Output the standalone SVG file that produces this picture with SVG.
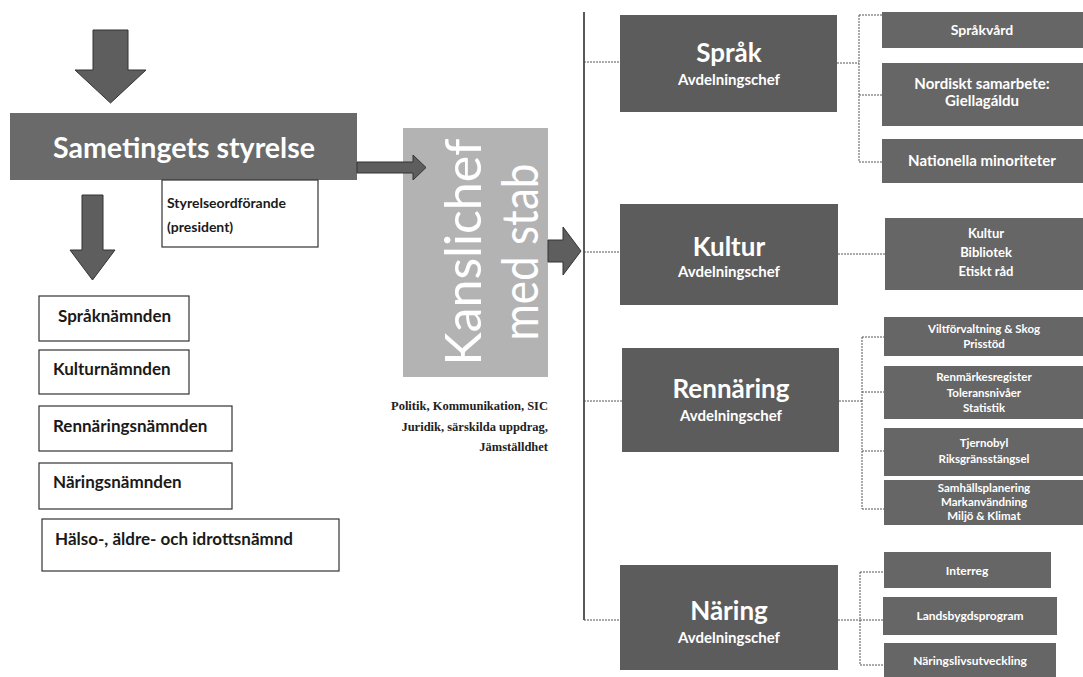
<svg xmlns="http://www.w3.org/2000/svg" width="1083" height="677" viewBox="0 0 1083 677">
<style>
.bg{fill:#ffffff}
.arrow{fill:#5e5e5e;stroke:#333333;stroke-width:1}
.dark{fill:#5c5c5c}
.sub{fill:#666666}
.wbox{fill:#ffffff;stroke:#333333;stroke-width:1.2}
.wt{font-family:Lato,"Open Sans","Liberation Sans",sans-serif;fill:#ffffff;font-weight:bold;text-anchor:middle}
.bt{font-family:Lato,"Open Sans","Liberation Sans",sans-serif;fill:#1a1a1a;font-weight:bold}
.serif{font-family:"Liberation Serif","Times New Roman",serif;fill:#222222;font-weight:bold;font-size:12.5px;text-anchor:end}
.main{stroke:#222222;stroke-width:1.5;fill:none}
.stub{stroke:#555555;stroke-width:1;stroke-dasharray:2 1;fill:none}
</style>
<rect class="bg" x="0" y="0" width="1083" height="677"/>

<g id="connectors">
<path class="main" d="M584,12 V620"/>
<path class="stub" d="M584,62 H620 M584,252 H620 M584,401 H622 M584,620 H620"/>
<path class="stub" d="M837,63 H859 M859,15 V162 M859,15 H882 M859,95 H882 M859,162 H882"/>
<path class="stub" d="M838,254 H885"/>
<path class="stub" d="M839,401 H862 M862,337 V509 M862,337 H884 M862,392 H884 M862,451 H884 M862,509 H884"/>
<path class="stub" d="M838,620 H860 M860,572 V665 M860,572 H884 M860,620 H883 M860,665 H884"/>
</g>

<g id="styrelse">
<rect x="10" y="113" width="347" height="67" fill="#6a6a6a"/>
<text class="wt" x="184" y="158" font-size="29" textLength="262" lengthAdjust="spacingAndGlyphs">Sametingets styrelse</text>
</g>

<g id="ordforande">
<rect class="wbox" x="162" y="180" width="156" height="67"/>
<text class="bt" x="167" y="208" font-size="14">Styrelseordförande</text>
<text class="bt" x="167" y="232" font-size="14">(president)</text>
</g>

<g id="spraknamnden">
<rect class="wbox" x="39" y="296" width="150" height="45"/>
<text class="bt" x="58" y="322" font-size="17">Språknämnden</text>
</g>
<g id="kulturnamnden">
<rect class="wbox" x="39" y="350" width="150" height="44"/>
<text class="bt" x="53" y="375" font-size="17">Kulturnämnden</text>
</g>
<g id="rennaringsnamnden">
<rect class="wbox" x="39" y="406" width="193" height="45"/>
<text class="bt" x="53" y="432" font-size="17">Rennäringsnämnden</text>
</g>
<g id="naringsnamnden">
<rect class="wbox" x="39" y="463" width="193" height="46"/>
<text class="bt" x="53" y="488" font-size="17">Näringsnämnden</text>
</g>
<g id="halsonamnd">
<rect class="wbox" x="42" y="519" width="297" height="52"/>
<text class="bt" x="55" y="545" font-size="17">Hälso-, äldre- och idrottsnämnd</text>
</g>

<g id="kanslichef">
<rect x="403" y="128" width="145" height="249" fill="#b3b3b3"/>
<text transform="translate(481,252) rotate(-90)" x="0" y="0" font-family="Lato,'Liberation Sans',sans-serif" font-size="50" fill="#ffffff" text-anchor="middle" textLength="227" lengthAdjust="spacingAndGlyphs">Kanslichef</text>
<text transform="translate(538,252) rotate(-90)" x="0" y="0" font-family="Lato,'Liberation Sans',sans-serif" font-size="50" fill="#ffffff" text-anchor="middle" textLength="177" lengthAdjust="spacingAndGlyphs">med stab</text>
</g>

<g id="arrows">
<polygon class="arrow" points="93,30 128,30 128,70 146,70 110.5,103 75,70 93,70"/>
<polygon class="arrow" points="82,195 103,195 103,250 115,250 92.5,280 70,250 82,250"/>
<polygon class="arrow" points="357,162 413,162 413,155 426,167.5 413,180 413,173 357,173"/>
<polygon class="arrow" points="548,240 563,240 563,227 581,251 563,275 563,262 548,262"/>
</g>

<g id="stab">
<text class="serif" x="548" y="410">Politik, Kommunikation, SIC</text>
<text class="serif" x="548" y="431">Juridik, särskilda uppdrag,</text>
<text class="serif" x="548" y="451">Jämställdhet</text>
</g>

<g id="sprak">
<rect class="dark" x="620" y="15" width="217" height="97"/>
<text class="wt" x="729" y="62" font-size="26">Språk</text>
<text class="wt" x="729" y="85" font-size="15">Avdelningschef</text>
</g>
<g id="kultur">
<rect class="dark" x="620" y="204" width="218" height="101"/>
<text class="wt" x="729" y="256" font-size="26">Kultur</text>
<text class="wt" x="729" y="277" font-size="15">Avdelningschef</text>
</g>
<g id="rennaring">
<rect class="dark" x="622" y="348" width="217" height="104"/>
<text class="wt" x="731" y="398" font-size="26">Rennäring</text>
<text class="wt" x="731" y="421" font-size="15">Avdelningschef</text>
</g>
<g id="naring">
<rect class="dark" x="620" y="565" width="218" height="105"/>
<text class="wt" x="729" y="620" font-size="26">Näring</text>
<text class="wt" x="729" y="643" font-size="15">Avdelningschef</text>
</g>

<g id="sprakvard">
<rect class="sub" x="882" y="12" width="201" height="36"/>
<text class="wt" x="982" y="35" font-size="14">Språkvård</text>
</g>
<g id="nordiskt">
<rect class="sub" x="882" y="63" width="201" height="63"/>
<text class="wt" x="982" y="89" font-size="15">Nordiskt samarbete:</text>
<text class="wt" x="982" y="106" font-size="15">Giellagáldu</text>
</g>
<g id="nationella">
<rect class="sub" x="882" y="139" width="201" height="44"/>
<text class="wt" x="982" y="166" font-size="15">Nationella minoriteter</text>
</g>

<g id="kultur-sub">
<rect class="sub" x="885" y="218" width="198" height="72"/>
<text class="wt" x="986" y="238" font-size="13">Kultur</text>
<text class="wt" x="986" y="257" font-size="13">Bibliotek</text>
<text class="wt" x="986" y="276" font-size="13">Etiskt råd</text>
</g>

<g id="vilt">
<rect class="sub" x="884" y="317" width="199" height="39"/>
<text class="wt" x="984" y="333" font-size="11.5">Viltförvaltning &amp; Skog</text>
<text class="wt" x="984" y="348" font-size="11.5">Prisstöd</text>
</g>
<g id="renmarke">
<rect class="sub" x="884" y="366" width="199" height="53"/>
<text class="wt" x="984" y="381" font-size="11.5">Renmärkesregister</text>
<text class="wt" x="984" y="397" font-size="11.5">Toleransnivåer</text>
<text class="wt" x="984" y="412" font-size="11.5">Statistik</text>
</g>
<g id="tjernobyl">
<rect class="sub" x="884" y="428" width="199" height="48"/>
<text class="wt" x="984" y="447" font-size="11.5">Tjernobyl</text>
<text class="wt" x="984" y="463" font-size="11.5">Riksgränsstängsel</text>
</g>
<g id="samhall">
<rect class="sub" x="884" y="480" width="199" height="45"/>
<text class="wt" x="984" y="492" font-size="11.5">Samhällsplanering</text>
<text class="wt" x="984" y="506" font-size="11.5">Markanvändning</text>
<text class="wt" x="984" y="520" font-size="11.5">Miljö &amp; Klimat</text>
</g>

<g id="interreg">
<rect class="sub" x="884" y="552" width="167" height="36"/>
<text class="wt" x="967" y="575" font-size="12">Interreg</text>
</g>
<g id="landsbygd">
<rect class="sub" x="883" y="597" width="174" height="38"/>
<text class="wt" x="970" y="620" font-size="12">Landsbygdsprogram</text>
</g>
<g id="naringsliv">
<rect class="sub" x="884" y="643" width="172" height="34"/>
<text class="wt" x="970" y="665" font-size="12">Näringslivsutveckling</text>
</g>
</svg>
